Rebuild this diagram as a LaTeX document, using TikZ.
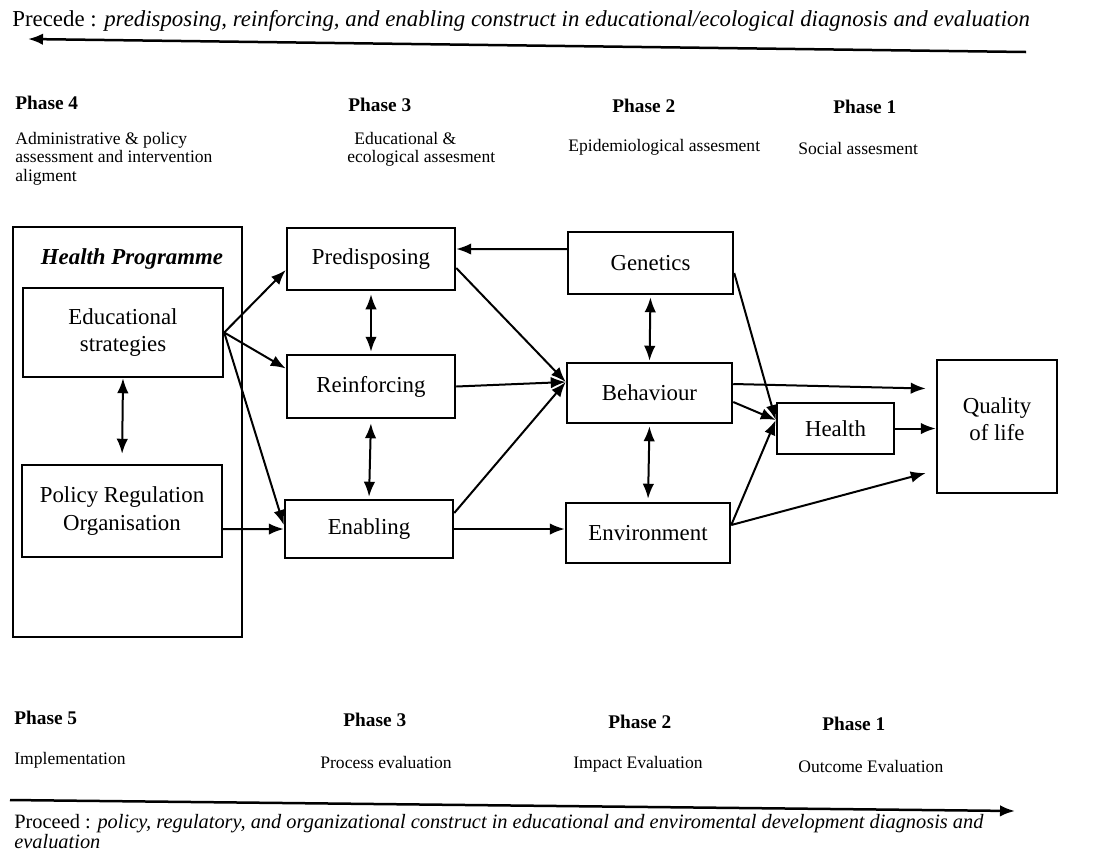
\documentclass[tikz,border=0pt]{standalone}
\usepackage{fontspec}
\setmainfont{Liberation Serif}
\usetikzlibrary{arrows.meta}
\tikzset{
	blk/.style={draw, line width=0.5mm, align=center, inner sep=0pt, font=\fontsize{13}{15.5}\selectfont},
	arr/.style={line width=0.4mm, -{Latex[length=3mm,width=2.3mm]}},
	darr/.style={line width=0.4mm, {Latex[length=3mm,width=2.3mm]}-{Latex[length=3mm,width=2.3mm]}},
	phase/.style={anchor=west, inner sep=0pt, font=\fontsize{11}{13}\selectfont\bfseries},
	stage/.style={anchor=west, inner sep=0pt, align=left, font=\fontsize{10}{10.5}\selectfont},
	band/.style={anchor=west, inner sep=0pt, align=left},
}

\begin{document}
\begin{tikzpicture}[x=0.02cm, y=-0.02cm]
			\useasboundingbox (0,0) rectangle (1111,853);
			%%%%% START %%%%%
			
			\node[band, font=\fontsize{13}{14}\selectfont] (precede) at (12,21) {Precede : \textit{predisposing, reinforcing, and enabling construct in educational/ecological diagnosis and evaluation}};
			\coordinate (pcR) at (1026,52);
			\coordinate (pcL) at (28,39);
			\draw[arr, line width=0.5mm] (pcR) -- (pcL);
			
			\node[phase] (ph4) at (15,103) {Phase 4};
			\node[phase] (ph3) at (348,105) {Phase 3};
			\node[phase] (ph2) at (612,106) {Phase 2};
			\node[phase] (ph1) at (833,107) {Phase 1};
			\node[stage, anchor=north west] (adm) at (15,132) {Administrative \& policy\\assessment and intervention\\aligment};
			\node[stage, anchor=north west] (eco) at (347,132) {\hspace{0.4em}Educational \&\\ecological assesment};
			\node[stage] (epi) at (568,147) {Epidemiological assesment};
			\node[stage] (soc) at (798,148) {Social assesment};
			
			\node[draw, line width=0.5mm, minimum width=4.58cm, minimum height=8.2cm] (prog) at (127.5,432) {};
			\node[inner sep=0pt, font=\fontsize{13}{15}\selectfont\bfseries\itshape] (progname) at (132,259) {Health Programme};
			\node[blk, minimum width=4cm, minimum height=1.78cm] (edu) at (123,332.5) {Educational\\strategies};
			\node[blk, minimum width=4cm, minimum height=1.84cm] (pol) at (122,511) {Policy Regulation\\Organisation};
			
			\node[blk, minimum width=3.36cm, minimum height=1.24cm] (pred) at (371,259) {Predisposing};
			\node[blk, minimum width=3.36cm, minimum height=1.26cm] (reinf) at (371,386.5) {Reinforcing};
			\node[blk, minimum width=3.36cm, minimum height=1.16cm] (enab) at (369,529) {Enabling};
			
			\node[blk, minimum width=3.3cm, minimum height=1.24cm] (gen) at (650.5,263) {Genetics};
			\node[blk, minimum width=3.3cm, minimum height=1.2cm] (beh) at (649.5,393) {Behaviour};
			\node[blk, minimum width=3.28cm, minimum height=1.2cm] (env) at (648,533) {Environment};
			
			\node[blk, minimum width=2.34cm, minimum height=1.02cm] (hlth) at (835.5,428.5) {Health};
			\node[blk, minimum width=2.4cm, minimum height=2.66cm] (qol) at (997,426.5) {Quality\\of life\\[-0.25cm]};
			
			\draw[darr, shorten >=0.2cm] (edu.south) -- (pol.north);
			\draw[arr] (edu.east) -- ([yshift=-0.22cm]pred.west);
			\draw[arr] (edu.east) -- ([yshift=0.36cm]reinf.west);
			\draw[arr] (edu.east) -- ([yshift=0.08cm]enab.west);
			\draw[arr] ([yshift=-0.36cm]pol.east) -- (enab.west);
			
			\draw[darr, shorten <=0.06cm, shorten >=0.04cm] (pred.south) -- (reinf.north);
			\draw[darr, shorten <=0.08cm, shorten >=0.04cm] (reinf.south) -- (enab.north);
			\draw[arr] ([yshift=0.28cm]gen.west) -- ([yshift=0.2cm]pred.east);
			
			\draw[arr] ([yshift=-0.18cm]pred.east) -- ([yshift=0.22cm]beh.west);
			\draw[arr] (reinf.east) -- ([yshift=0.22cm]beh.west);
			\draw[arr] ([yshift=0.32cm]enab.east) -- ([yshift=0.22cm]beh.west);
			\draw[arr] (enab.east) -- (enab.east -| env.west);
			
			\draw[darr, shorten <=0.04cm, shorten >=0.02cm] (gen.south) -- (beh.north);
			\draw[darr, shorten <=0.04cm, shorten >=0.06cm] (beh.south) -- (env.north);
			
			\draw[arr] ([yshift=0.18cm]beh.east) -- ([shift={(-0.2cm,0.76cm)}]qol.west);
			\draw[arr] ([yshift=-0.18cm]beh.east) -- ([yshift=0.17cm]hlth.west);
			\draw[arr] ([yshift=-0.2cm]gen.east) -- ([yshift=0.17cm]hlth.west);
			\draw[arr] ([yshift=0.16cm]env.east) -- ([yshift=0.17cm]hlth.west);
			\draw[arr] ([yshift=0.16cm]env.east) -- ([shift={(-0.2cm,-0.93cm)}]qol.west);
			\draw[arr] (hlth.east) -- (hlth.east -| qol.west);
			
			\node[phase] (ph5) at (14,718) {Phase 5};
			\node[phase] (ph3b) at (343,720) {Phase 3};
			\node[phase] (ph2b) at (608,722) {Phase 2};
			\node[phase] (ph1b) at (822,724) {Phase 1};
			\node[stage] (impl) at (14,760) {Implementation};
			\node[stage] (proc) at (320,762) {Process evaluation};
			\node[stage] (impa) at (573,764) {Impact Evaluation};
			\node[stage] (outc) at (798,766) {Outcome Evaluation};
			
			\coordinate (pdL) at (10,800);
			\coordinate (pdR) at (1015,811);
			\draw[arr, line width=0.5mm] (pdL) -- (pdR);
			\node[band, anchor=north west, font=\fontsize{11.6}{10}\selectfont] (proceed) at (14,814) {Proceed : \textit{policy, regulatory, and organizational construct in educational and enviromental development diagnosis and}\\\textit{evaluation}};
			
			%%%%% END %%%%%
\end{tikzpicture}
\end{document}
